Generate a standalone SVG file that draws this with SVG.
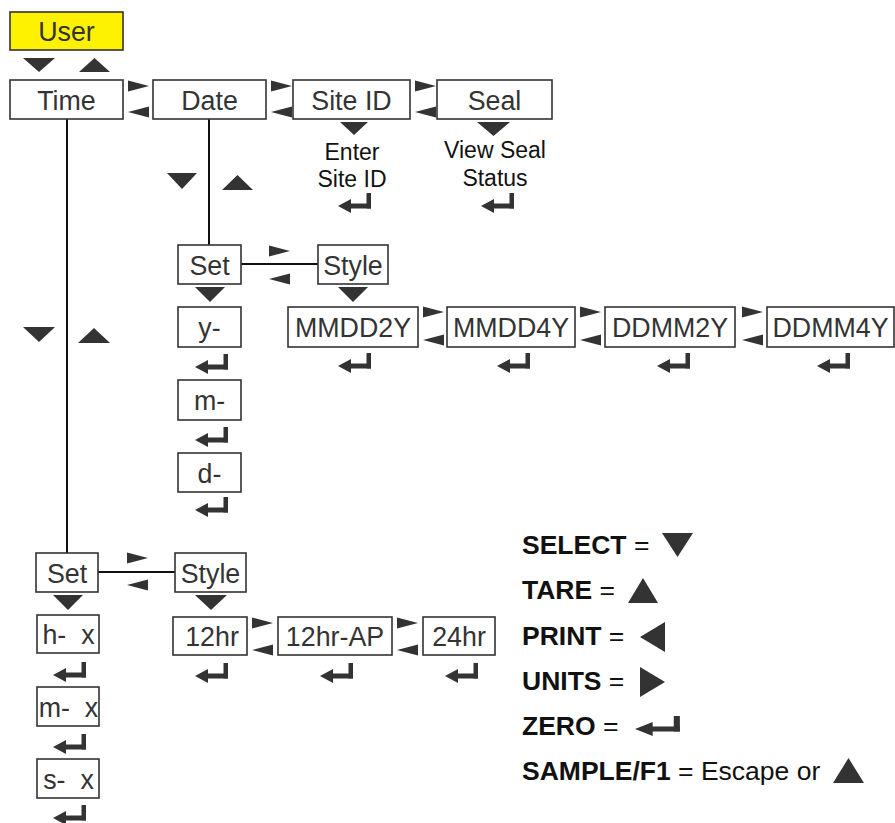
<svg xmlns="http://www.w3.org/2000/svg" xmlns:xlink="http://www.w3.org/1999/xlink" width="895" height="823" viewBox="0 0 895 823">
<style>
.box{fill:#fff;stroke:#333;stroke-width:1.6}
.user{fill:#fff200;stroke:#333;stroke-width:1.6}
.t{font-family:"Liberation Sans",Arial,sans-serif;font-size:26.8px;fill:#333;text-anchor:middle}
.s{font-family:"Liberation Sans",Arial,sans-serif;font-size:23px;fill:#111;text-anchor:middle}
.lg{font-family:"Liberation Sans",Arial,sans-serif;font-size:26.5px;fill:#111}
.tri{fill:#333}
.ln{stroke:#111;stroke-width:2;fill:none}
</style>
<defs>
<g id="ent" class="tri"><polygon points="0,0 13,-7 13,7"/><rect x="12" y="-2.5" width="21" height="5"/><rect x="28.5" y="-13" width="4.5" height="15.5"/></g>
<polygon id="ra" points="0,-5.5 21,0 0,5.5"/>
<polygon id="la" points="21,-5.5 0,0 21,5.5"/>
</defs>

<g id="connectors">
<line class="ln" x1="67" y1="119" x2="67" y2="553"/>
<line class="ln" x1="209" y1="119" x2="209" y2="245"/>
<line class="ln" x1="241" y1="264" x2="318" y2="264"/>
<line class="ln" x1="98" y1="572" x2="175" y2="572"/>
</g>

<g id="arrows" class="tri">
<polygon points="23,58 55,58 39,72"/>
<polygon points="79,72 110,72 94.5,58"/>
<use xlink:href="#ra" x="128" y="86"/><use xlink:href="#la" x="128" y="112"/>
<use xlink:href="#ra" x="271" y="86"/><use xlink:href="#la" x="271" y="112"/>
<use xlink:href="#ra" x="415" y="86"/><use xlink:href="#la" x="415" y="112"/>
<polygon points="340,122 368,122 354,135"/>
<polygon points="477,122 510,122 493.5,136"/>
<polygon points="167,173 197,173 182,189"/>
<polygon points="222,190 253,190 237.5,175"/>
<use xlink:href="#ra" x="269" y="251"/><use xlink:href="#la" x="269" y="279"/>
<polygon points="195,287 225,287 210,302"/>
<polygon points="338,287 368,287 353,302"/>
<use xlink:href="#ra" x="423" y="312"/><use xlink:href="#la" x="423" y="340"/>
<use xlink:href="#ra" x="580" y="312"/><use xlink:href="#la" x="580" y="340"/>
<use xlink:href="#ra" x="742" y="312"/><use xlink:href="#la" x="742" y="340"/>
<polygon points="23,327 55,327 39,342"/>
<polygon points="78,343 110,343 94,328"/>
<use xlink:href="#ra" x="127" y="558"/><use xlink:href="#la" x="127" y="585"/>
<polygon points="53,595 83,595 68,610"/>
<polygon points="195,595 227,595 211,610"/>
<use xlink:href="#ra" x="252" y="623"/><use xlink:href="#la" x="252" y="650"/>
<use xlink:href="#ra" x="397" y="623"/><use xlink:href="#la" x="397" y="650"/>
<use xlink:href="#ent" x="338" y="206"/>
<use xlink:href="#ent" x="481" y="206"/>
<use xlink:href="#ent" x="195" y="367"/>
<use xlink:href="#ent" x="195" y="440"/>
<use xlink:href="#ent" x="195" y="510"/>
<use xlink:href="#ent" x="338" y="366"/>
<use xlink:href="#ent" x="497" y="366"/>
<use xlink:href="#ent" x="657" y="366"/>
<use xlink:href="#ent" x="817" y="366"/>
<use xlink:href="#ent" x="53" y="675"/>
<use xlink:href="#ent" x="53" y="747"/>
<use xlink:href="#ent" x="53" y="818"/>
<use xlink:href="#ent" x="195" y="676"/>
<use xlink:href="#ent" x="320" y="676"/>
<use xlink:href="#ent" x="445" y="676"/>
</g>

<g id="user"><rect class="user" x="10" y="12" width="113" height="38"/><text class="t" x="66.5" y="40.5">User</text></g>
<g id="time"><rect class="box" x="10" y="80" width="113" height="39"/><text class="t" x="66.5" y="109.5">Time</text></g>
<g id="date"><rect class="box" x="153" y="80" width="113" height="39"/><text class="t" x="209.5" y="109.5">Date</text></g>
<g id="siteid"><rect class="box" x="293" y="80" width="117" height="39"/><text class="t" x="351.5" y="109.5">Site ID</text></g>
<g id="seal"><rect class="box" x="437" y="80" width="115" height="39"/><text class="t" x="494.5" y="109.5">Seal</text></g>
<g id="enter-site"><text class="s" x="352" y="160">Enter</text><text class="s" x="352" y="187">Site ID</text></g>
<g id="view-seal"><text class="s" x="495" y="158">View Seal</text><text class="s" x="495" y="186">Status</text></g>

<g id="date-set"><rect class="box" x="178" y="245" width="63" height="39"/><text class="t" x="209.5" y="274.5">Set</text></g>
<g id="date-style"><rect class="box" x="318" y="245" width="70" height="39"/><text class="t" x="353" y="274.5">Style</text></g>
<g id="y"><rect class="box" x="178" y="307" width="63" height="40"/><text class="t" x="209.5" y="336.5">y-</text></g>
<g id="dm"><rect class="box" x="178" y="380" width="63" height="40"/><text class="t" x="209.5" y="409.5">m-</text></g>
<g id="d"><rect class="box" x="178" y="453" width="63" height="39"/><text class="t" x="209.5" y="482.5">d-</text></g>
<g id="mmdd2y"><rect class="box" x="288" y="307" width="130" height="40"/><text class="t" x="353" y="336.5">MMDD2Y</text></g>
<g id="mmdd4y"><rect class="box" x="447" y="307" width="128" height="40"/><text class="t" x="511" y="336.5">MMDD4Y</text></g>
<g id="ddmm2y"><rect class="box" x="605" y="307" width="130" height="40"/><text class="t" x="670" y="336.5">DDMM2Y</text></g>
<g id="ddmm4y"><rect class="box" x="767" y="307" width="127" height="40"/><text class="t" x="830.5" y="336.5">DDMM4Y</text></g>

<g id="time-set"><rect class="box" x="36" y="553" width="62" height="39"/><text class="t" x="67" y="582.5">Set</text></g>
<g id="time-style"><rect class="box" x="175" y="553" width="71" height="39"/><text class="t" x="210.5" y="582.5">Style</text></g>
<g id="h"><rect class="box" x="37" y="615" width="62" height="38"/><text class="t" x="68.5" y="643.5" xml:space="preserve">h-  x</text></g>
<g id="tm"><rect class="box" x="37" y="687" width="62" height="39"/><text class="t" x="68.5" y="716.5" xml:space="preserve">m-  x</text></g>
<g id="ts"><rect class="box" x="37" y="759" width="62" height="39"/><text class="t" x="68.5" y="788.5" xml:space="preserve">s-  x</text></g>
<g id="h12"><rect class="box" x="173" y="617" width="74" height="38"/><text class="t" x="212" y="645.5">12hr</text></g>
<g id="h12ap"><rect class="box" x="278" y="617" width="114" height="38"/><text class="t" x="335" y="645.5">12hr-AP</text></g>
<g id="h24"><rect class="box" x="423" y="617" width="72" height="38"/><text class="t" x="459" y="645.5">24hr</text></g>

<g id="legend">
<text class="lg" x="522" y="554"><tspan font-weight="bold">SELECT</tspan> =</text>
<polygon class="tri" points="662,533 693,533 677.5,557"/>
<text class="lg" x="522" y="599"><tspan font-weight="bold">TARE</tspan> =</text>
<polygon class="tri" points="628,603 658,603 643,578"/>
<text class="lg" x="522" y="645"><tspan font-weight="bold">PRINT</tspan> =</text>
<polygon class="tri" points="665,622 665,652 640,637"/>
<text class="lg" x="522" y="690"><tspan font-weight="bold">UNITS</tspan> =</text>
<polygon class="tri" points="640,667 640,697 665,682"/>
<text class="lg" x="522" y="735"><tspan font-weight="bold">ZERO</tspan> =</text>
<use xlink:href="#ent" transform="translate(635,729) scale(1.36,1)"/>
<text class="lg" x="522" y="780"><tspan font-weight="bold">SAMPLE/F1</tspan> = Escape or</text>
<polygon class="tri" points="833,783 864,783 848.5,758"/>
</g>
</svg>
